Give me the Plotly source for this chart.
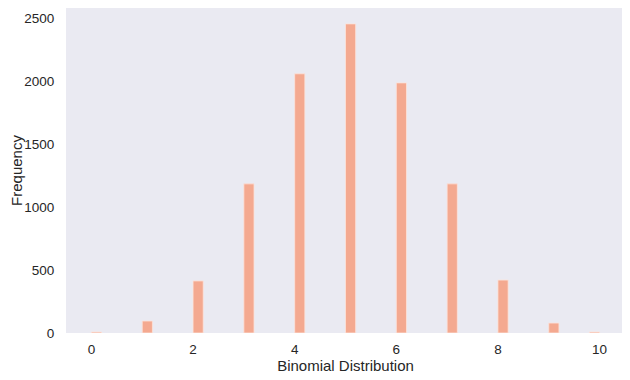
import plotly.graph_objects as go

values = [0, 1, 2, 3, 4, 5, 6, 7, 8, 9, 10]
counts = [8, 95, 413, 1183, 2056, 2452, 1984, 1183, 420, 79, 8]
x_ticks = [0, 2, 4, 6, 8, 10]
y_ticks = [0, 500, 1000, 1500, 2000, 2500]

bin_w = 0.2
offsets = [0 if v < max(values) else -bin_w for v in values]

fig = go.Figure(go.Bar(
    x=values, y=counts, width=[bin_w] * len(values), offset=offsets,
    marker=dict(color="#F4A990", line=dict(color="#FCE3DA", width=0.8)),
))
font = "Liberation Sans, Arial, sans-serif"
fig.update_layout(
    width=622, height=372,
    margin=dict(l=58, r=5, t=0, b=47),
    paper_bgcolor="white", plot_bgcolor="#EAEAF2",
    showlegend=False,
    font=dict(family=font, size=13.5, color="#262626"),
    xaxis=dict(range=[-0.5, 10.5], tickvals=x_ticks, showgrid=False, zeroline=False,
               showline=False, ticks="outside", ticklen=4, tickcolor="rgba(0,0,0,0)",
               automargin=False,
               title=dict(text="Binomial Distribution", font=dict(size=15), standoff=4)),
    yaxis=dict(range=[0, 2578], tickvals=y_ticks, showgrid=False, zeroline=False,
               showline=False, ticks="outside", ticklen=8, tickcolor="rgba(0,0,0,0)",
               automargin=False,
               title=dict(text="Frequency", font=dict(size=15), standoff=1)),
)
fig.write_html("out.html")
